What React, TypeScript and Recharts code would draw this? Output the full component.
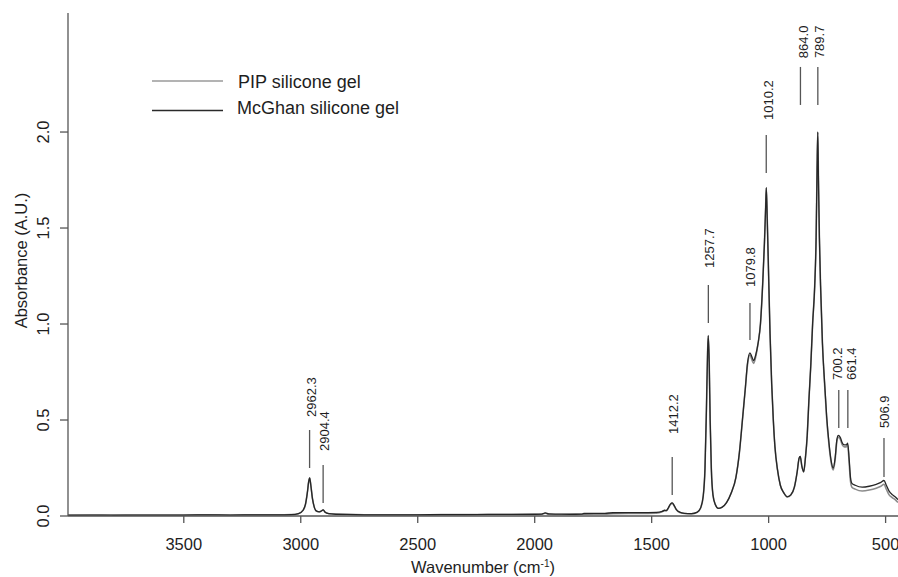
import React from "react";
import {
  LineChart,
  Line,
  XAxis,
  YAxis,
  Legend,
  ReferenceLine,
  ReferenceDot,
} from "recharts";

// wavenumber (cm-1), high to low
const wavenumbers = [
  3995, 3900, 3800, 3700, 3600, 3500, 3400, 3300, 3200, 3100,
  3040, 3010, 2990, 2980, 2972, 2966, 2962, 2957, 2950, 2942,
  2932, 2920, 2912, 2904, 2896, 2880, 2850, 2800, 2700, 2600,
  2500, 2400, 2300, 2200, 2100, 2000, 1970, 1955, 1940, 1900,
  1850, 1800, 1790, 1700, 1665, 1600, 1550, 1480, 1455, 1445,
  1438, 1430, 1420, 1412, 1404, 1395, 1380, 1360, 1330, 1305,
  1290, 1280, 1272, 1266, 1261, 1258, 1254, 1250, 1245, 1238,
  1228, 1215, 1200, 1180, 1160, 1140, 1125, 1112, 1100, 1090,
  1080, 1072, 1064, 1055, 1045, 1035, 1025, 1018, 1013, 1010,
  1006, 1000, 994, 987, 980, 973, 962, 950, 935, 920,
  905, 890, 878, 870, 865, 858, 850, 843, 835, 828,
  820, 812, 803, 797, 793, 790, 787, 783, 778, 770,
  760, 752, 742, 733, 724, 716, 708, 702, 694, 685,
  676, 668, 662, 656, 650, 644, 630, 600, 570, 540,
  520, 507, 497, 485, 470, 455, 447,
];

const mcghan = [
  0.004, 0.005, 0.004, 0.005, 0.005, 0.005, 0.006, 0.005, 0.006, 0.006,
  0.007, 0.012, 0.03, 0.06, 0.12, 0.18, 0.198, 0.16, 0.09, 0.045,
  0.025, 0.022, 0.026, 0.032, 0.02, 0.012, 0.009, 0.008, 0.006, 0.006,
  0.006, 0.007, 0.007, 0.008, 0.008, 0.009, 0.01, 0.016, 0.011, 0.01,
  0.009, 0.01, 0.013, 0.014, 0.017, 0.018, 0.018, 0.019, 0.024, 0.03,
  0.028, 0.04, 0.062, 0.068, 0.055, 0.035, 0.02, 0.014, 0.012, 0.02,
  0.045, 0.1, 0.25, 0.55, 0.85, 0.94, 0.8, 0.5, 0.25, 0.11,
  0.06, 0.04, 0.045, 0.07, 0.12, 0.2, 0.33, 0.5, 0.66, 0.8,
  0.85, 0.83, 0.81, 0.84, 0.9, 1.0, 1.22, 1.42, 1.6, 1.71,
  1.55, 1.25, 0.95, 0.69, 0.5, 0.36, 0.24, 0.16, 0.12, 0.1,
  0.11, 0.15, 0.23, 0.3, 0.31, 0.26, 0.23, 0.3, 0.42, 0.6,
  0.78, 1.0, 1.2, 1.45, 1.8, 2.0, 1.75, 1.45, 1.2, 0.9,
  0.68, 0.52, 0.38, 0.29, 0.25, 0.3, 0.4, 0.42, 0.41, 0.38,
  0.37, 0.37, 0.38, 0.3, 0.2, 0.17, 0.16, 0.15, 0.155, 0.165,
  0.175, 0.185, 0.16, 0.13, 0.11, 0.095, 0.085,
];

const pip = [
  0.004, 0.005, 0.004, 0.005, 0.005, 0.005, 0.006, 0.005, 0.006, 0.006,
  0.007, 0.012, 0.03, 0.06, 0.12, 0.18, 0.198, 0.16, 0.09, 0.045,
  0.025, 0.022, 0.026, 0.032, 0.02, 0.012, 0.009, 0.008, 0.006, 0.006,
  0.006, 0.007, 0.007, 0.008, 0.008, 0.008, 0.009, 0.014, 0.009, 0.008,
  0.008, 0.009, 0.009, 0.01, 0.012, 0.013, 0.013, 0.015, 0.022, 0.028,
  0.027, 0.038, 0.06, 0.066, 0.053, 0.033, 0.018, 0.013, 0.011, 0.019,
  0.044, 0.1, 0.25, 0.55, 0.85, 0.94, 0.8, 0.5, 0.25, 0.11,
  0.06, 0.04, 0.045, 0.07, 0.12, 0.2, 0.33, 0.5, 0.66, 0.79,
  0.84, 0.815, 0.795, 0.83, 0.9, 1.0, 1.22, 1.42, 1.6, 1.71,
  1.55, 1.25, 0.95, 0.69, 0.5, 0.36, 0.24, 0.16, 0.12, 0.1,
  0.11, 0.15, 0.23, 0.3, 0.31, 0.26, 0.23, 0.3, 0.42, 0.6,
  0.78, 1.0, 1.2, 1.45, 1.8, 2.0, 1.75, 1.45, 1.2, 0.9,
  0.67, 0.51, 0.37, 0.28, 0.24, 0.29, 0.39, 0.41, 0.4, 0.37,
  0.36, 0.36, 0.37, 0.28, 0.18, 0.15, 0.14, 0.13, 0.135, 0.145,
  0.155, 0.165, 0.14, 0.11, 0.095, 0.08, 0.07,
];

const xTicks = [3500, 3000, 2500, 2000, 1500, 1000, 500];
const yTicks = [0, 0.5, 1.0, 1.5, 2.0];

// peak annotations: marker line from lineBottoms to lineTops, label sits on labelBases
const peakLabels = ["2962.3", "2904.4", "1412.2", "1257.7", "1079.8", "1010.2", "864.0", "789.7", "700.2", "661.4", "506.9"];
const peakWavenumbers = [2962.3, 2904.4, 1412.2, 1257.7, 1079.8, 1010.2, 864.0, 789.7, 700.2, 661.4, 506.9];
const lineTops = [0.448, 0.266, 0.307, 1.203, 1.109, 1.984, 2.339, 2.339, 0.656, 0.656, 0.406];
const lineBottoms = [0.25, 0.068, 0.109, 1.005, 0.917, 1.786, 2.141, 2.141, 0.458, 0.458, 0.203];
const labelBases = [0.516, 0.339, 0.427, 1.292, 1.193, 2.063, 2.385, 2.385, 0.708, 0.708, 0.458];

// small sideways nudge (px) so crowded labels don't sit on each other
const labelNudge = [2, 1, 1, 1, 1, 2, 3, 2, -1, 4, 1];

const data = wavenumbers.map((wn, i) => ({ wn, pip: pip[i], mcghan: mcghan[i] }));

const FONT = "'Liberation Sans', Arial, Helvetica, sans-serif";
const AXIS = "#555";
const INK = "#1e1e1e";

function YTick(props: any) {
  const { x, y, payload } = props;
  const tx = x - 11;
  return (
    <text x={tx} y={y} transform={`rotate(-90 ${tx} ${y})`} textAnchor="middle" fontSize={16.5} fill={INK} fontFamily={FONT}>
      {Number(payload.value).toFixed(1)}
    </text>
  );
}

function YLabel(props: any) {
  const { x, y, height } = props.viewBox;
  const tx = x + 19;
  const ty = y + height / 2 - 4;
  return (
    <text x={tx} y={ty} transform={`rotate(-90 ${tx} ${ty})`} textAnchor="middle" fontSize={16.5} fill={INK} fontFamily={FONT}>
      Absorbance (A.U.)
    </text>
  );
}

function XLabel(props: any) {
  const { x, y, width } = props.viewBox;
  return (
    <text x={x + width / 2} y={y + 57} textAnchor="middle" fontSize={16.5} fill={INK} fontFamily={FONT}>
      Wavenumber (cm
      <tspan dy={-6} fontSize={10}>-1</tspan>
      <tspan dy={6}>)</tspan>
    </text>
  );
}

function PeakLabel(text: string, nudge: number) {
  return (props: any) => {
    const tx = props.cx + 4.5 + nudge;
    const ty = props.cy;
    return (
      <text x={tx} y={ty} transform={`rotate(-90 ${tx} ${ty})`} textAnchor="start" fontSize={13} fill={INK} fontFamily={FONT}>
        {text}
      </text>
    );
  };
}

function LegendBox() {
  return (
    <svg width={240} height={56} style={{ overflow: "visible" }}>
      <line x1={0} x2={71} y1={8} y2={8} stroke="#9a9a9a" strokeWidth={1.3} />
      <text x={86} y={14.5} fontSize={18} fill={INK} fontFamily={FONT}>PIP silicone gel</text>
      <line x1={0} x2={71} y1={37.5} y2={37.5} stroke="#2a2a2a" strokeWidth={1.3} />
      <text x={85} y={40.5} fontSize={18} fill={INK} fontFamily={FONT}>McGhan silicone gel</text>
    </svg>
  );
}

export default function App() {
  return (
    <div style={{ width: 898, height: 577, padding: "8px 0 0 8px", boxSizing: "border-box", fontFamily: FONT }}>
      <style>{"body{margin:0}"}</style>
      <LineChart width={890} height={569} data={data} margin={{ top: 5, right: 0, bottom: 0, left: 0 }}>
        <XAxis
          dataKey="wn"
          type="number"
          domain={[447, 3995]}
          reversed
          ticks={xTicks}
          allowDataOverflow
          interval={0}
          height={61}
          tickSize={7}
          tickMargin={15}
          tick={{ fontSize: 16.5, fill: INK, fontFamily: FONT }}
          tickLine={{ stroke: AXIS, strokeWidth: 1.3 }}
          axisLine={{ stroke: AXIS, strokeWidth: 1.3 }}
          label={{ content: XLabel }}
        />
        <XAxis
          xAxisId="top"
          orientation="top"
          type="number"
          domain={[447, 3995]}
          reversed
          height={0}
          tick={false}
          tickLine={false}
          axisLine={{ stroke: AXIS, strokeWidth: 1.3 }}
        />
        <YAxis
          type="number"
          domain={[0, 2.62]}
          ticks={yTicks}
          allowDataOverflow
          width={60}
          tickSize={8}
          tickMargin={0}
          tick={<YTick />}
          tickLine={{ stroke: AXIS, strokeWidth: 1.3 }}
          axisLine={{ stroke: AXIS, strokeWidth: 1.3 }}
          label={{ content: YLabel }}
        />
        <Legend
          layout="vertical"
          align="center"
          verticalAlign="middle"
          content={<LegendBox />}
          wrapperStyle={{ top: 64.5, left: 144, width: 240, height: 56 }}
        />
        <Line
          type="monotone"
          dataKey="pip"
          name="PIP silicone gel"
          stroke="#8c8c8c"
          strokeWidth={1.6}
          dot={false}
          isAnimationActive={false}
        />
        <Line
          type="monotone"
          dataKey="mcghan"
          name="McGhan silicone gel"
          stroke="#262626"
          strokeWidth={1.3}
          dot={false}
          isAnimationActive={false}
        />
        {peakWavenumbers.map((wn, i) => (
          <ReferenceLine
            key={`l${i}`}
            segment={[
              { x: wn, y: lineBottoms[i] },
              { x: wn, y: lineTops[i] },
            ]}
            stroke="#555"
            strokeWidth={1.3}
            ifOverflow="visible"
          />
        ))}
        {peakWavenumbers.map((wn, i) => (
          <ReferenceDot
            key={`t${i}`}
            x={wn}
            y={labelBases[i]}
            r={0}
            ifOverflow="visible"
            shape={PeakLabel(peakLabels[i], labelNudge[i])}
          />
        ))}
      </LineChart>
    </div>
  );
}
